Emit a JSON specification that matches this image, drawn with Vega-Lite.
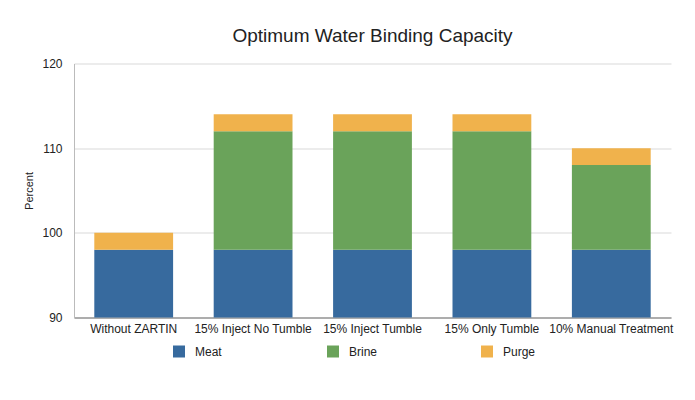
{
  "$schema": "https://vega.github.io/schema/vega-lite/v6.json",
  "autosize": {"type": "none"},
  "width": 597,
  "height": 254,
  "padding": {"left": 74, "top": 63.5, "right": 24, "bottom": 82.5},
  "background": "white",
  "title": {
    "text": "Optimum Water Binding Capacity",
    "font": "Liberation Sans",
    "fontSize": 19,
    "fontWeight": "normal",
    "color": "#222222",
    "offset": 12,
    "anchor": "middle"
  },
  "data": {
    "values": [
      {"treatment": "Without ZARTIN", "component": "Meat", "value": 98},
      {"treatment": "Without ZARTIN", "component": "Purge", "value": 2},
      {"treatment": "15% Inject No Tumble", "component": "Meat", "value": 98},
      {"treatment": "15% Inject No Tumble", "component": "Brine", "value": 14},
      {"treatment": "15% Inject No Tumble", "component": "Purge", "value": 2},
      {"treatment": "15% Inject Tumble", "component": "Meat", "value": 98},
      {"treatment": "15% Inject Tumble", "component": "Brine", "value": 14},
      {"treatment": "15% Inject Tumble", "component": "Purge", "value": 2},
      {"treatment": "15% Only Tumble", "component": "Meat", "value": 98},
      {"treatment": "15% Only Tumble", "component": "Brine", "value": 14},
      {"treatment": "15% Only Tumble", "component": "Purge", "value": 2},
      {"treatment": "10% Manual Treatment", "component": "Meat", "value": 98},
      {"treatment": "10% Manual Treatment", "component": "Brine", "value": 10},
      {"treatment": "10% Manual Treatment", "component": "Purge", "value": 2}
    ]
  },
  "transform": [
    {"calculate": "indexof(['Meat', 'Brine', 'Purge'], datum.component)", "as": "stackOrder"}
  ],
  "mark": {"type": "bar", "clip": true},
  "encoding": {
    "x": {
      "field": "treatment",
      "type": "nominal",
      "sort": null,
      "scale": {"paddingInner": 0.34, "paddingOuter": 0.17},
      "axis": {
        "title": null,
        "labelAngle": 0,
        "labelFont": "Liberation Sans",
        "labelFontSize": 12,
        "labelColor": "#222222",
        "labelPadding": 6,
        "ticks": false,
        "domainColor": "#999999",
        "domainWidth": 1.5,
        "labelLimit": 200
      }
    },
    "y": {
      "field": "value",
      "type": "quantitative",
      "stack": "zero",
      "scale": {"domain": [90, 120], "zero": false, "nice": false},
      "axis": {
        "title": "Percent",
        "titleFont": "Liberation Sans",
        "titleFontSize": 11,
        "titleFontWeight": "normal",
        "titleColor": "#222222",
        "titlePadding": 7,
        "values": [90, 100, 110, 120],
        "labelFont": "Liberation Sans",
        "labelFontSize": 12,
        "labelColor": "#222222",
        "labelPadding": 12,
        "ticks": false,
        "domainColor": "#bbbbbb",
        "grid": true,
        "gridColor": "#d9d9d9",
        "gridWidth": 1.2
      }
    },
    "color": {
      "field": "component",
      "type": "nominal",
      "sort": ["Meat", "Brine", "Purge"],
      "scale": {"domain": ["Meat", "Brine", "Purge"], "range": ["#376a9e", "#6aa35a", "#f0b24c"]},
      "legend": {
        "title": null,
        "orient": "none",
        "legendX": 99,
        "legendY": 282,
        "direction": "horizontal",
        "symbolType": "square",
        "symbolSize": 144,
        "symbolStrokeWidth": 0,
        "labelFont": "Liberation Sans",
        "labelFontSize": 12,
        "labelColor": "#222222",
        "labelOffset": 10,
        "gridAlign": "all",
        "columnPadding": 99
      }
    },
    "order": {"field": "stackOrder", "type": "quantitative", "sort": "ascending"}
  },
  "config": {"view": {"stroke": null}}
}
